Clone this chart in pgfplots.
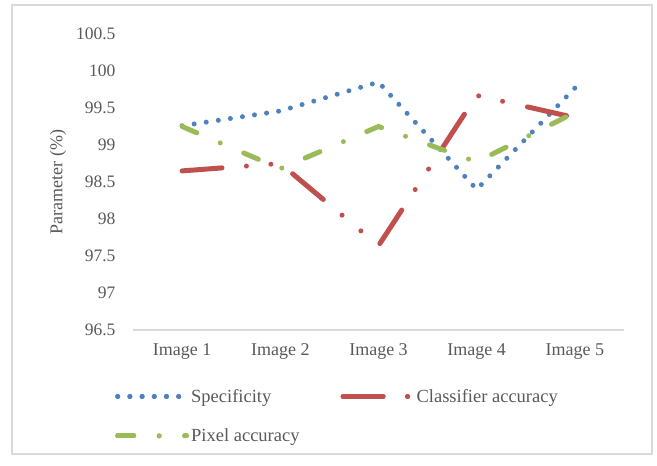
\documentclass[border=0pt]{standalone}
\usepackage{fontspec}
\setmainfont{Liberation Serif}
\usepackage{pgfplots}
\pgfplotsset{compat=1.18}

\definecolor{specblue}{HTML}{4F81BD}
\definecolor{clsred}{HTML}{C0504D}
\definecolor{pixgreen}{HTML}{9BBB59}
\definecolor{txtgray}{HTML}{595959}
\definecolor{rulegray}{HTML}{D9D9D9}

\begin{document}
\begin{tikzpicture}
\begin{axis}[
  width=491pt, height=296pt, scale only axis,
  clip=false,
  xmin=-0.5, xmax=4.5, ymin=96.5, ymax=100.5,
  xtick={0,1,2,3,4},
  xticklabels={Image 1,Image 2,Image 3,Image 4,Image 5},
  ytick={96.5,97,97.5,98,98.5,99,99.5,100,100.5},
  axis x line*=bottom, axis y line*=left,
  x axis line style={draw=rulegray, line width=1.2pt, -},
  y axis line style={draw=none, -},
  major tick length=0pt,
  /pgf/number format/assume math mode=true,
  tick label style={text=txtgray},
  yticklabel style={font=\fontsize{17.5}{20}\selectfont, anchor=east, xshift=-14pt},
  xticklabel style={font=\fontsize{18}{21}\selectfont, anchor=north, yshift=-10pt},
  ylabel={Parameter (\%)},
  every axis y label/.style={at={(axis description cs:0,0.5)}, xshift=-75pt,
    rotate=90, anchor=center, font=\fontsize{18}{21}\selectfont, text=txtgray},
  legend columns=2,
  legend image code/.code={\draw[#1] (0pt,0pt) -- (67pt,0pt); \path (0pt,0pt) -- (69pt,0pt);},
  legend style={
    at={(axis description cs:-0.0367,-0.1926)}, anchor=north west,
    draw=none, fill=none, inner sep=0pt,
    font=\fontsize{18.5}{22}\selectfont, text=txtgray,
    nodes={inner sep=2pt},
    row sep=21pt,
    /tikz/every even column/.append style={column sep=39pt},
  },
  legend cell align=left,
]
% Specificity
\addplot[specblue, line width=5pt, line cap=round,
  dash pattern=on 0pt off 12.2pt]
  coordinates {(0,99.26) (1,99.46) (2,99.85) (3,98.40) (4,99.77)};
\addlegendentry{Specificity}
% Classifier accuracy
\addplot[clsred, line width=5pt, line cap=round,
  dash pattern=on 40pt off 24.5pt on 0pt off 24.5pt on 0pt off 25.5pt]
  coordinates {(0,98.65) (1,98.75) (2,97.64) (3,99.67) (4,99.37)};
\addlegendentry{Classifier accuracy}
% Pixel accuracy
\addplot[pixgreen, line width=5pt, line cap=round,
  dash pattern=on 16pt off 25.5pt on 0pt off 25.5pt]
  coordinates {(0,99.25) (1,98.68) (2,99.25) (3,98.77) (4,99.44)};
\addlegendentry{Pixel accuracy}
% chart frame and page margins around the plot area
\draw[rulegray, line width=1.2pt]
  (axis description cs:-0.2464,-0.4189) rectangle (axis description cs:1.0570,1.0980);
\path (axis description cs:-0.2709,-0.4561) rectangle (axis description cs:1.0672,1.1149);
\end{axis}
\end{tikzpicture}
\end{document}
